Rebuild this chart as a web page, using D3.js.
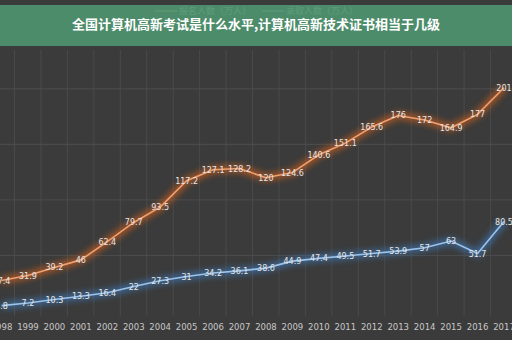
<!DOCTYPE html>
<html>
<head>
<meta charset="utf-8">
<script src="https://cdn.jsdelivr.net/npm/d3@7"></script>
<style>
body{margin:0;background:#3b3b3b;}
svg{display:block;}
</style>
</head>
<body>
<svg id="chart" width="512" height="340"></svg>
<script>
var years=['1998','1999','2000','2001','2002','2003','2004','2005','2006','2007','2008','2009','2010','2011','2012','2013','2014','2015','2016','2017']
var baoming=[27.4,31.9,39.2,46,62.4,79.7,93.5,117.2,127.1,128.2,120,124.6,140.6,151.1,165.6,176,172,164.9,177,201]
var luqu=[4.8,7.2,10.3,13.3,16.4,22,27.3,31,34.2,36.1,38.6,44.9,47.4,49.5,51.7,53.9,57,63,51.7,80.5]
var seriesNames=['报名人数（万人）','录取人数（万人）']
var yTicks=[50,100,150,200]
var title='全国计算机高新考试是什么水平,计算机高新技术证书相当于几级'

var svg=d3.select('#chart')
var W=512,H=340
svg.append('rect').attr('width',W).attr('height',H).attr('fill','#3b3b3b')

var defs=svg.append('defs')
var f=defs.append('filter').attr('id','glow').attr('x','-10%').attr('y','-50%').attr('width','120%').attr('height','200%')
f.append('feGaussianBlur').attr('stdDeviation',3)

var x=d3.scalePoint().domain(years).range([1.5,504])
var y=d3.scaleLinear().domain([0,200]).range([311,88.8])

// 网格
var grid=svg.append('g')
grid.selectAll('line.v').data(years).join('line')
    .attr('x1',d=>x(d)+13).attr('x2',d=>x(d)+13)
    .attr('y1',50).attr('y2',316)
    .attr('stroke','#4a4a4a').attr('stroke-width',1)
grid.selectAll('line.h').data(yTicks).join('line')
    .attr('x1',0).attr('x2',W)
    .attr('y1',d=>y(d)).attr('y2',d=>y(d))
    .attr('stroke','#4d4d4d').attr('stroke-width',1)

// x轴文字
svg.append('g').selectAll('text').data(years).join('text')
    .attr('x',d=>x(d)).attr('y',330)
    .attr('text-anchor','middle')
    .attr('font-family','DejaVu Sans, sans-serif')
    .attr('font-size',8.5)
    .attr('fill','#c8c8c8')
    .text(d=>d)

var line=d3.line().x((d,i)=>x(years[i])).y(d=>y(d))

function drawSeries(data,glowColor,lineColor,labelDy){
    var g=svg.append('g')
    g.append('path').datum(data).attr('d',line)
        .attr('fill','none').attr('stroke',glowColor).attr('stroke-width',7)
        .attr('opacity',0.7).attr('filter','url(#glow)')
    g.append('path').datum(data).attr('d',line)
        .attr('fill','none').attr('stroke',lineColor).attr('stroke-width',1.6)
    g.selectAll('text').data(data).join('text')
        .attr('x',(d,i)=>x(years[i])).attr('y',d=>y(d)+labelDy)
        .attr('text-anchor','middle')
        .attr('font-family','DejaVu Sans, sans-serif')
        .attr('font-size',8)
        .attr('fill','#e6e6e6')
        .text(d=>d)
}
drawSeries(baoming,'#d2601f','#f0a070',3)
drawSeries(luqu,'#3e78b8','#9cc3ea',3)

// 图例(被标题条盖住)
var lg=svg.append('g').attr('font-family','Noto Sans CJK SC, sans-serif').attr('font-size',9).attr('fill','#cfcfcf')
var lgX=[155,262]
seriesNames.forEach(function(n,i){
    lg.append('line').attr('x1',lgX[i]).attr('x2',lgX[i]+22).attr('y1',11).attr('y2',11)
        .attr('stroke',i==0?'#d8a070':'#8fb5e0').attr('stroke-width',1.5)
    lg.append('text').attr('x',lgX[i]+24).attr('y',14).text(n)
})

// 标题条
svg.append('rect').attr('x',0).attr('y',5).attr('width',W).attr('height',41)
    .attr('fill','#4f9670').attr('opacity',0.9)
svg.append('text').attr('x',256).attr('y',29)
    .attr('text-anchor','middle')
    .attr('font-family','Noto Sans CJK SC, sans-serif')
    .attr('font-weight','bold').attr('font-size',13)
    .attr('fill','#ffffff')
    .text(title)
</script>
</body>
</html>
